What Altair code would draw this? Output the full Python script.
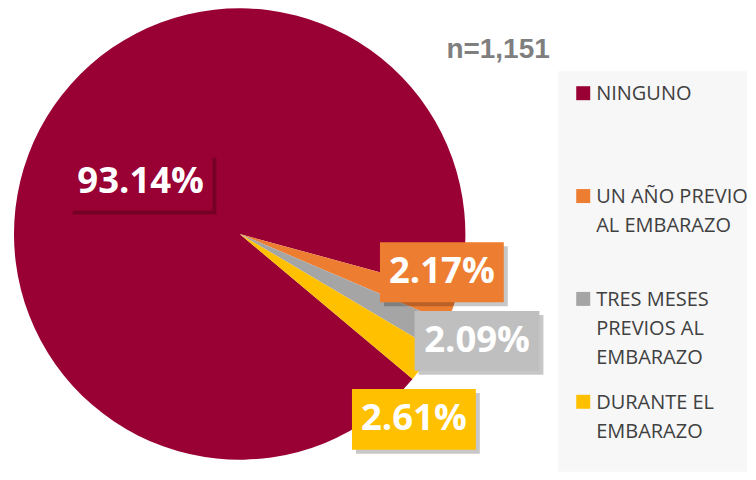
import math
import altair as alt
import pandas as pd

# ---------------- data ----------------
categories = ["NINGUNO", "UN AÑO PREVIO AL EMBARAZO",
              "TRES MESES PREVIOS AL EMBARAZO", "DURANTE EL EMBARAZO"]
legend_lines = ["NINGUNO", "UN AÑO PREVIO\nAL EMBARAZO",
                "TRES MESES\nPREVIOS AL\nEMBARAZO", "DURANTE EL\nEMBARAZO"]
percentages = [93.14, 2.17, 2.09, 2.61]
pct_labels = ["93.14%", "2.17%", "2.09%", "2.61%"]
sample_label = ["n=1,151"]

# ---------------- style ----------------
slice_colors = ["#990033", "#ED7D31", "#A5A5A5", "#FFC000"]
box_colors = ["#990033", "#ED7D31", "#BFBFBF", "#FFC000"]

W, H = 740, 464
CX, CY, R = 232, 226, 226
START = math.radians(130)

label_radius = [112, 226, 226, 226]
label_nudge_x = [0, -11, 36, -10]
label_nudge_y = [0, -36, 5, 55]
box_w = [144, 124, 125, 124]
box_h = [57, 60, 60, 61]
SHADOW = 4

# ---------------- derived label table ----------------
total = sum(percentages)
rows = []
cum = 0.0
for i, p in enumerate(percentages):
    mid = START + 2 * math.pi * (cum + p / 2) / total
    cum += p
    cx = CX + label_radius[i] * math.sin(mid) + label_nudge_x[i]
    cy = CY - label_radius[i] * math.cos(mid) + label_nudge_y[i]
    rows.append({
        "label": pct_labels[i], "fillc": box_colors[i],
        "cx": cx, "cy": cy,
        "x0": cx - box_w[i] / 2, "x1": cx + box_w[i] / 2,
        "y0": cy - box_h[i] / 2, "y1": cy + box_h[i] / 2,
        "sx0": cx - box_w[i] / 2 + SHADOW, "sx1": cx + box_w[i] / 2 + SHADOW,
        "sy0": cy - box_h[i] / 2 + SHADOW, "sy1": cy + box_h[i] / 2 + SHADOW,
    })
lab_df = pd.DataFrame(rows)

pie_df = pd.DataFrame({"cat": categories, "value": percentages,
                       "order": list(range(len(categories)))})
leg_df = pd.DataFrame({"cat": categories, "text": legend_lines})
n_df = pd.DataFrame({"t": sample_label})

color_scale = alt.Scale(domain=categories, range=slice_colors)

panel = alt.Chart(n_df).mark_rect(color="#F7F7F7").encode(
    x=alt.value(551), x2=alt.value(W), y=alt.value(63), y2=alt.value(H)
)

pie = alt.Chart(pie_df).mark_arc(outerRadius=R).encode(
    theta=alt.Theta("value:Q", stack=True,
                    scale=alt.Scale(range=[START, START + 2 * math.pi])),
    color=alt.Color("cat:N", scale=color_scale, legend=None),
    order=alt.Order("order:Q"),
    x=alt.value(CX), y=alt.value(CY),
)

lab = alt.Chart(lab_df)
shadow = lab.mark_rect(color="black", opacity=0.22).encode(
    x=alt.X("sx0:Q", scale=None), x2="sx1:Q",
    y=alt.Y("sy0:Q", scale=None), y2="sy1:Q",
)
box = lab.mark_rect().encode(
    x=alt.X("x0:Q", scale=None), x2="x1:Q",
    y=alt.Y("y0:Q", scale=None), y2="y1:Q",
    fill=alt.Fill("fillc:N", scale=None),
)
txt = lab.mark_text(font="Open Sans", fontWeight="bold", fontSize=36.5,
                    color="white", align="center", baseline="middle").encode(
    x=alt.X("cx:Q", scale=None), y=alt.Y("cy:Q", scale=None), text="label:N"
)

yscale = alt.Scale(type="point", domain=categories, range=[85, 394], padding=0)
leg_sq = alt.Chart(leg_df).mark_square(size=196, opacity=1, filled=True).encode(
    x=alt.value(576),
    y=alt.Y("cat:N", scale=yscale, axis=None),
    color=alt.Color("cat:N", scale=color_scale, legend=None),
)
leg_txt = alt.Chart(leg_df).mark_text(
    align="left", baseline="alphabetic", dy=7, lineBreak="\n", lineHeight=29,
    font="Open Sans", fontSize=20, color="#404040"
).encode(
    x=alt.value(589),
    y=alt.Y("cat:N", scale=yscale, axis=None),
    text="text:N",
)

n_txt = alt.Chart(n_df).mark_text(
    align="left", baseline="middle", font="Liberation Sans", fontWeight="bold",
    fontSize=28, color="#7F7F7F"
).encode(x=alt.value(439), y=alt.value(42), text="t:N")

chart = alt.layer(panel, pie, shadow, box, txt, leg_sq, leg_txt, n_txt).resolve_scale(
    x="independent", y="independent", color="independent"
).properties(
    width=W, height=H, padding=0, background="white"
).configure_view(strokeWidth=0)

chart.save("out.html", embed_options={"renderer": "svg", "actions": False})
